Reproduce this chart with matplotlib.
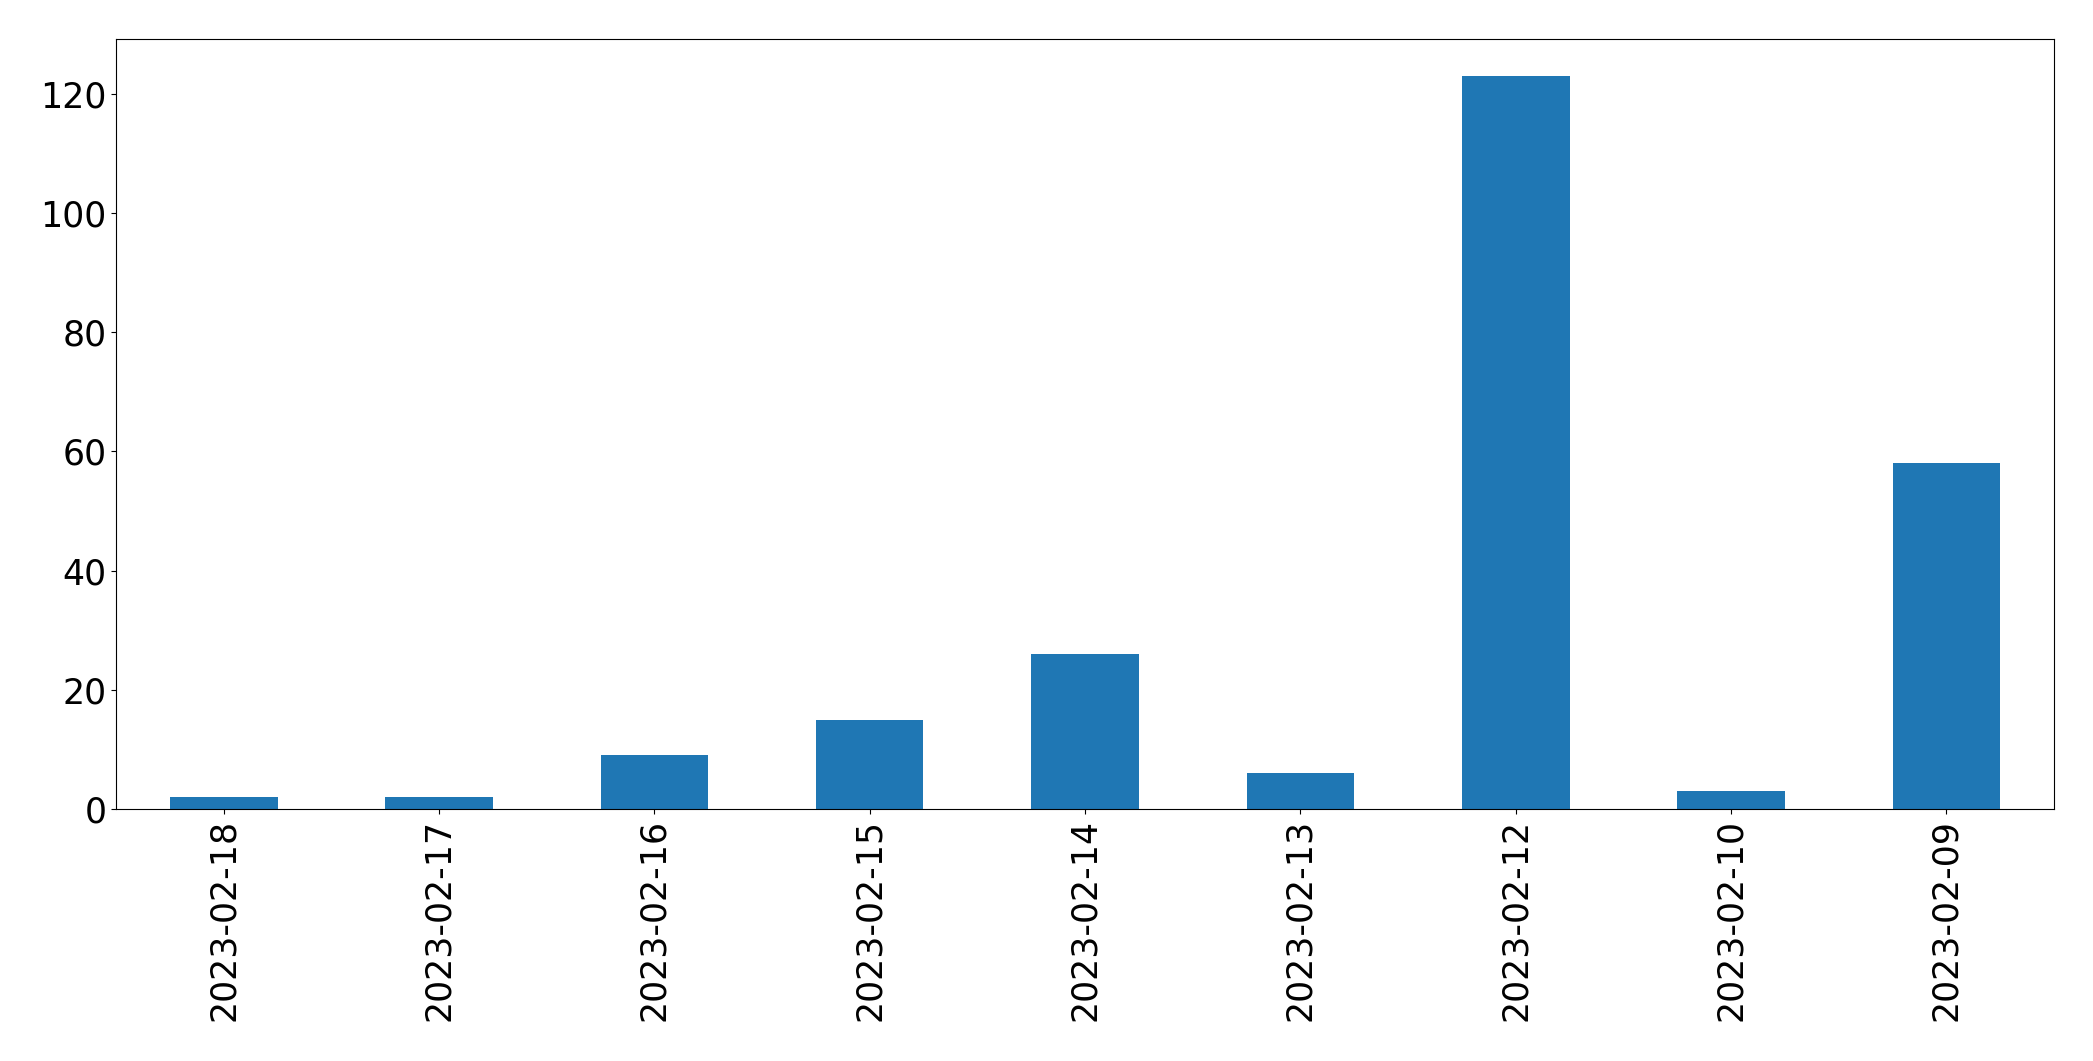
import matplotlib
matplotlib.use('Agg')
import matplotlib.pyplot as plt
import pandas as pd

dates = ['2023-02-18', '2023-02-17', '2023-02-16', '2023-02-15', '2023-02-14',
         '2023-02-13', '2023-02-12', '2023-02-10', '2023-02-09']
counts = [2, 2, 9, 15, 26, 6, 123, 3, 58]

series = pd.Series(counts, index=dates)

fig = plt.figure(figsize=(20.93, 10.61), dpi=100)
ax = fig.add_axes([116 / 2093, 1 - 809 / 1061, (2054 - 116) / 2093, (809 - 39) / 1061])
series.plot(kind='bar', ax=ax, color='#1f77b4', fontsize=25)
ax.set_xlabel('')

fig.savefig('out.png', dpi=100)
